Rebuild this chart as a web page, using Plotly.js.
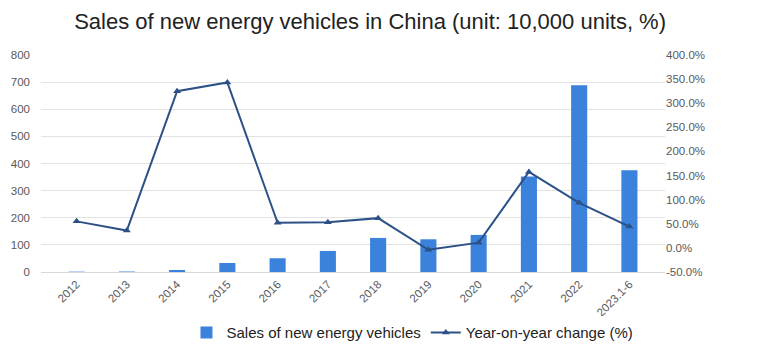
<!DOCTYPE html>
<html>
<head>
<meta charset="utf-8">
<script src="https://cdn.plot.ly/plotly-3.0.1.min.js"></script>
<style>html,body{margin:0;padding:0;background:#fff;}#chart{width:771px;height:354px;}</style>
</head>
<body>
<div id="chart"></div>
<script>
const categories = ["2012","2013","2014","2015","2016","2017","2018","2019","2020","2021","2022","2023.1-6"];
const sales = [1.3, 1.8, 7.5, 33.1, 50.7, 77.7, 125.6, 120.6, 136.7, 352.1, 688.7, 374.7];
const yoy = [55.0, 36.0, 324.8, 343.0, 52.0, 53.0, 61.7, -4.0, 10.9, 157.5, 93.4, 44.1];
const leftTicks = [0,100,200,300,400,500,600,700,800];
const rightTicks = [-50,0,50,100,150,200,250,300,350,400];

const traces = [
  {
    type: "bar", name: "Sales of new energy vehicles",
    x: categories, y: sales,
    marker: {color: "#3b82dc"},
    width: 0.32, yaxis: "y"
  },
  {
    type: "scatter", mode: "lines+markers", name: "Year-on-year change (%)",
    x: categories, y: yoy, yaxis: "y2",
    line: {color: "#2c5187", width: 2},
    marker: {symbol: "triangle-up", size: 7, color: "#2c5187"}
  }
];

const layout = {
  width: 771, height: 354,
  margin: {l: 41, r: 106, t: 55, b: 82, autoexpand: false},
  paper_bgcolor: "#fff", plot_bgcolor: "#fff",
  font: {family: "Liberation Sans, Arial, sans-serif", color: "#595959"},
  title: {text: "Sales of new energy vehicles in China (unit: 10,000 units, %)",
          font: {size: 22, color: "#222", family: "Liberation Sans, Arial, sans-serif"},
          x: 0.48, xanchor: "center", xref: "container",
          y: 0.94, yanchor: "middle", yref: "container"},
  xaxis: {
    type: "category", tickangle: -45, tickfont: {size: 11.5, color: "#595959"},
    showgrid: false, showline: true, linecolor: "#d9d9d9", ticks: "", automargin: false
  },
  yaxis: {
    range: [0, 800], tickvals: leftTicks, ticktext: leftTicks.map(String),
    tickfont: {size: 11.5, color: "#595959"}, automargin: false,
    showgrid: true, gridcolor: "#e3e3e3", zeroline: false, ticks: "", ticklabelstandoff: 10
  },
  yaxis2: {
    overlaying: "y", side: "right", range: [-50, 400], automargin: false,
    tickvals: rightTicks, ticktext: rightTicks.map(v => v.toFixed(1) + "%"),
    tickfont: {size: 11.5, color: "#595959"},
    showgrid: false, zeroline: false, ticks: ""
  },
  legend: {orientation: "h", x: 0.535, xanchor: "center", xref: "container",
           y: 0.06, yanchor: "middle", yref: "container",
           font: {size: 15, color: "#222"}},
  showlegend: true
};

Plotly.newPlot("chart", traces, layout, {displayModeBar: false, staticPlot: true});
</script>
</body>
</html>
